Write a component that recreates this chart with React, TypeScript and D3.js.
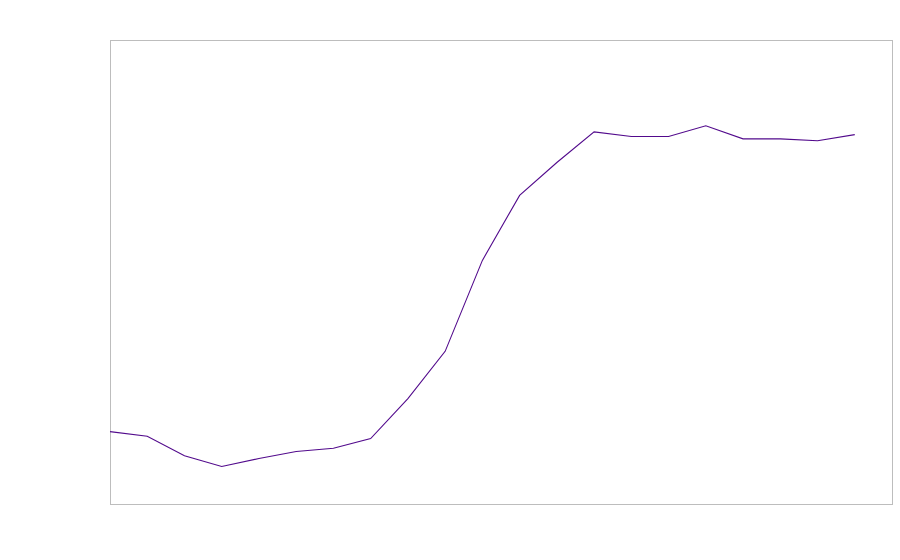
import React from "react";
import * as d3 from "d3";

const xIndex = [0,1,2,3,4,5,6,7,8,9,10,11,12,13,14,15,16,17,18,19,20];
const values = [15.6,14.6,10.4,8.1,9.8,11.3,12.0,14.1,22.7,32.9,52.5,66.5,73.6,80.2,79.2,79.2,81.5,78.7,78.7,78.3,79.6];

const W = 900, H = 560;
const M = { left: 110, right: 8, top: 40, bottom: 56 };

export default function App() {
  const x = d3.scaleLinear().domain([0, 21]).range([M.left, W - M.right]);
  const y = d3.scaleLinear().domain([0, 100]).range([H - M.bottom, M.top]);
  const line = d3.line<number>().x((_, i) => x(xIndex[i])).y(d => y(d));
  return (
    <svg width={W} height={H} style={{ position: "absolute", left: 0, top: 0, background: "#fff" }}>
      <rect x={M.left + 0.5} y={M.top + 0.5} width={W - M.right - M.left} height={H - M.bottom - M.top}
        fill="none" stroke="#bdbdbd" strokeWidth={1} />
      <path d={line(values) || ""} fill="none" stroke="#520a8c" strokeWidth={1.1} />
    </svg>
  );
}
